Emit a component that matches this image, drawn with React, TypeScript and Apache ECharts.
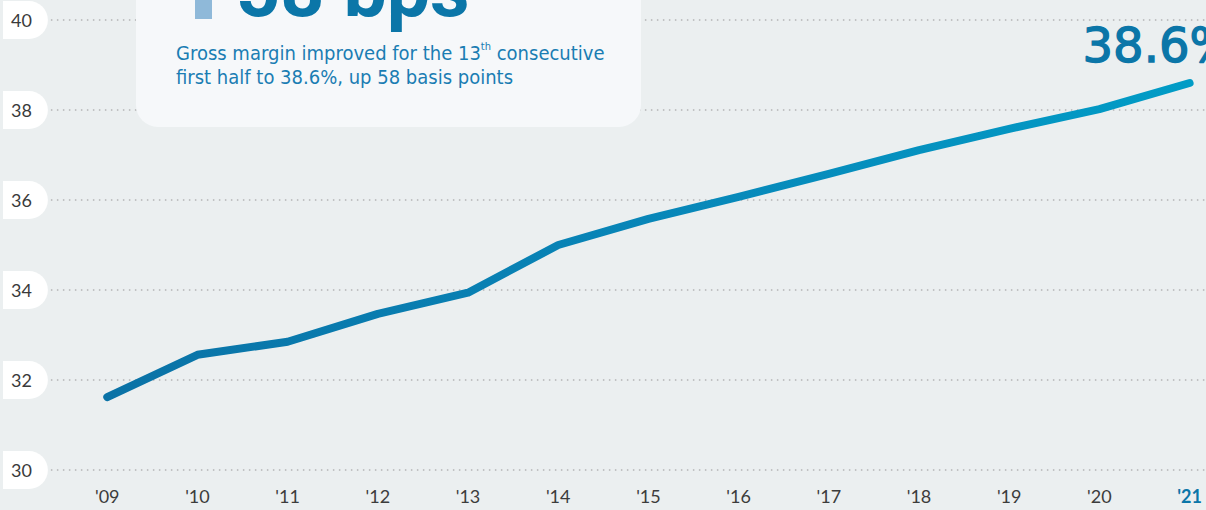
import React, { useEffect, useRef } from "react";
import * as echarts from "echarts";

const years = [2009, 2010, 2011, 2012, 2013, 2014, 2015, 2016, 2017, 2018, 2019, 2020, 2021];
const yearLabels = ["'09", "'10", "'11", "'12", "'13", "'14", "'15", "'16", "'17", "'18", "'19", "'20", "'21"];
const grossMargin = [31.62, 32.56, 32.85, 33.47, 33.94, 35.0, 35.58, 36.07, 36.58, 37.11, 37.58, 38.02, 38.6];
const yMin = 30;
const yMax = 40;
const yStep = 2;
const headline = "58 bps";
const bodyLine1 = "Gross margin improved for the 13";
const bodySup = "th";
const bodyLine1b = " consecutive";
const bodyLine2 = "first half to 38.6%, up 58 basis points";

export default function App() {
  const ref = useRef<HTMLDivElement>(null);
  useEffect(() => {
    if (!ref.current) return;
    const chart = echarts.init(ref.current, undefined, { renderer: "svg" });
    const last = years.length - 1;
    const data = years.map((y, i) => [y, grossMargin[i]]);
    const bodyFont = "'Liberation Sans Narrow', 'DejaVu Sans Condensed', sans-serif";
    chart.setOption({
      animation: false,
      backgroundColor: "#ebeff0",
      grid: { left: 48, right: 0, top: 20, bottom: 40 },
      xAxis: {
        type: "value",
        min: 2008.375,
        max: 2021.182,
        axisLine: { show: false },
        axisTick: { show: false },
        splitLine: { show: false },
        axisLabel: {
          customValues: years,
          margin: 17,
          fontFamily: "Lato",
          fontWeight: 400,
          fontSize: 18,
          color: "#3c3c3c",
          formatter: (v: number) => {
            const i = years.indexOf(Math.round(v));
            if (i < 0) return "";
            return i === last ? `{b|${yearLabels[i]}}` : yearLabels[i];
          },
          rich: {
            b: { fontFamily: "Lato", fontWeight: "bold", fontSize: 18, color: "#0b76a8" },
          },
        },
      },
      yAxis: {
        type: "value",
        min: yMin,
        max: yMax,
        interval: yStep,
        axisLine: { show: false },
        axisTick: { show: false },
        splitLine: { show: true, lineStyle: { color: "#b4b4b4", width: 1.5, type: [1.5, 4.5] } },
        axisLabel: {
          margin: 3,
          fontFamily: "Lato",
          fontWeight: 400,
          fontSize: 18,
          color: "#3a3a3a",
          backgroundColor: "#ffffff",
          borderRadius: [0, 19, 19, 0],
          padding: [10, 16, 10, 8],
        },
      },
      series: [
        {
          type: "line",
          data,
          showSymbol: false,
          symbol: "none",
          lineStyle: {
            width: 8,
            cap: "round",
            join: "round",
            color: new echarts.graphic.LinearGradient(0, 0, 1, 0, [
              { offset: 0, color: "#0a72a6" },
              { offset: 0.5, color: "#0886b8" },
              { offset: 1, color: "#019cc6" },
            ]),
          },
          endLabel: {
            show: true,
            formatter: (p: any) => `${p.value[1]}%`,
            align: "left",
            verticalAlign: "middle",
            distance: 0,
            offset: [-107, -38],
            fontFamily: "DejaVu Sans",
            fontWeight: 400,
            fontSize: 48,
            color: "#0b76a8",
            textBorderColor: "#0b76a8",
            textBorderWidth: 1.4,
          },
          z: 5,
        },
      ],
      graphic: [
        {
          type: "rect",
          z: 100,
          shape: { x: 136, y: -40, width: 505, height: 167, r: 22 },
          style: { fill: "#f6f8fa" },
        },
        {
          type: "rect",
          z: 101,
          shape: { x: 195, y: 0, width: 17, height: 19 },
          style: { fill: "#8fb9d9" },
        },
        {
          type: "text",
          z: 101,
          x: 236,
          y: -10,
          style: {
            text: headline,
            font: "bold 77px Roboto",
            fill: "#0b76a8",
            verticalAlign: "middle",
          },
        },
        {
          type: "text",
          z: 101,
          x: 176,
          y: 41,
          style: {
            text: `{t|${bodyLine1}}{s|${bodySup}}{t|${bodyLine1b}}\n{t|${bodyLine2}}`,
            fill: "#1a7db3",
            verticalAlign: "top",
            rich: {
              t: { fontFamily: bodyFont, fontSize: 20, lineHeight: 24, fill: "#1a7db3" },
              s: { fontFamily: bodyFont, fontSize: 11, lineHeight: 24, verticalAlign: "top", fill: "#1a7db3" },
            },
          },
        },
      ],
    });
    return () => chart.dispose();
  }, []);
  return (
    <div
      ref={ref}
      style={{ position: "absolute", left: 0, top: 0, width: 1206, height: 510 }}
    />
  );
}
